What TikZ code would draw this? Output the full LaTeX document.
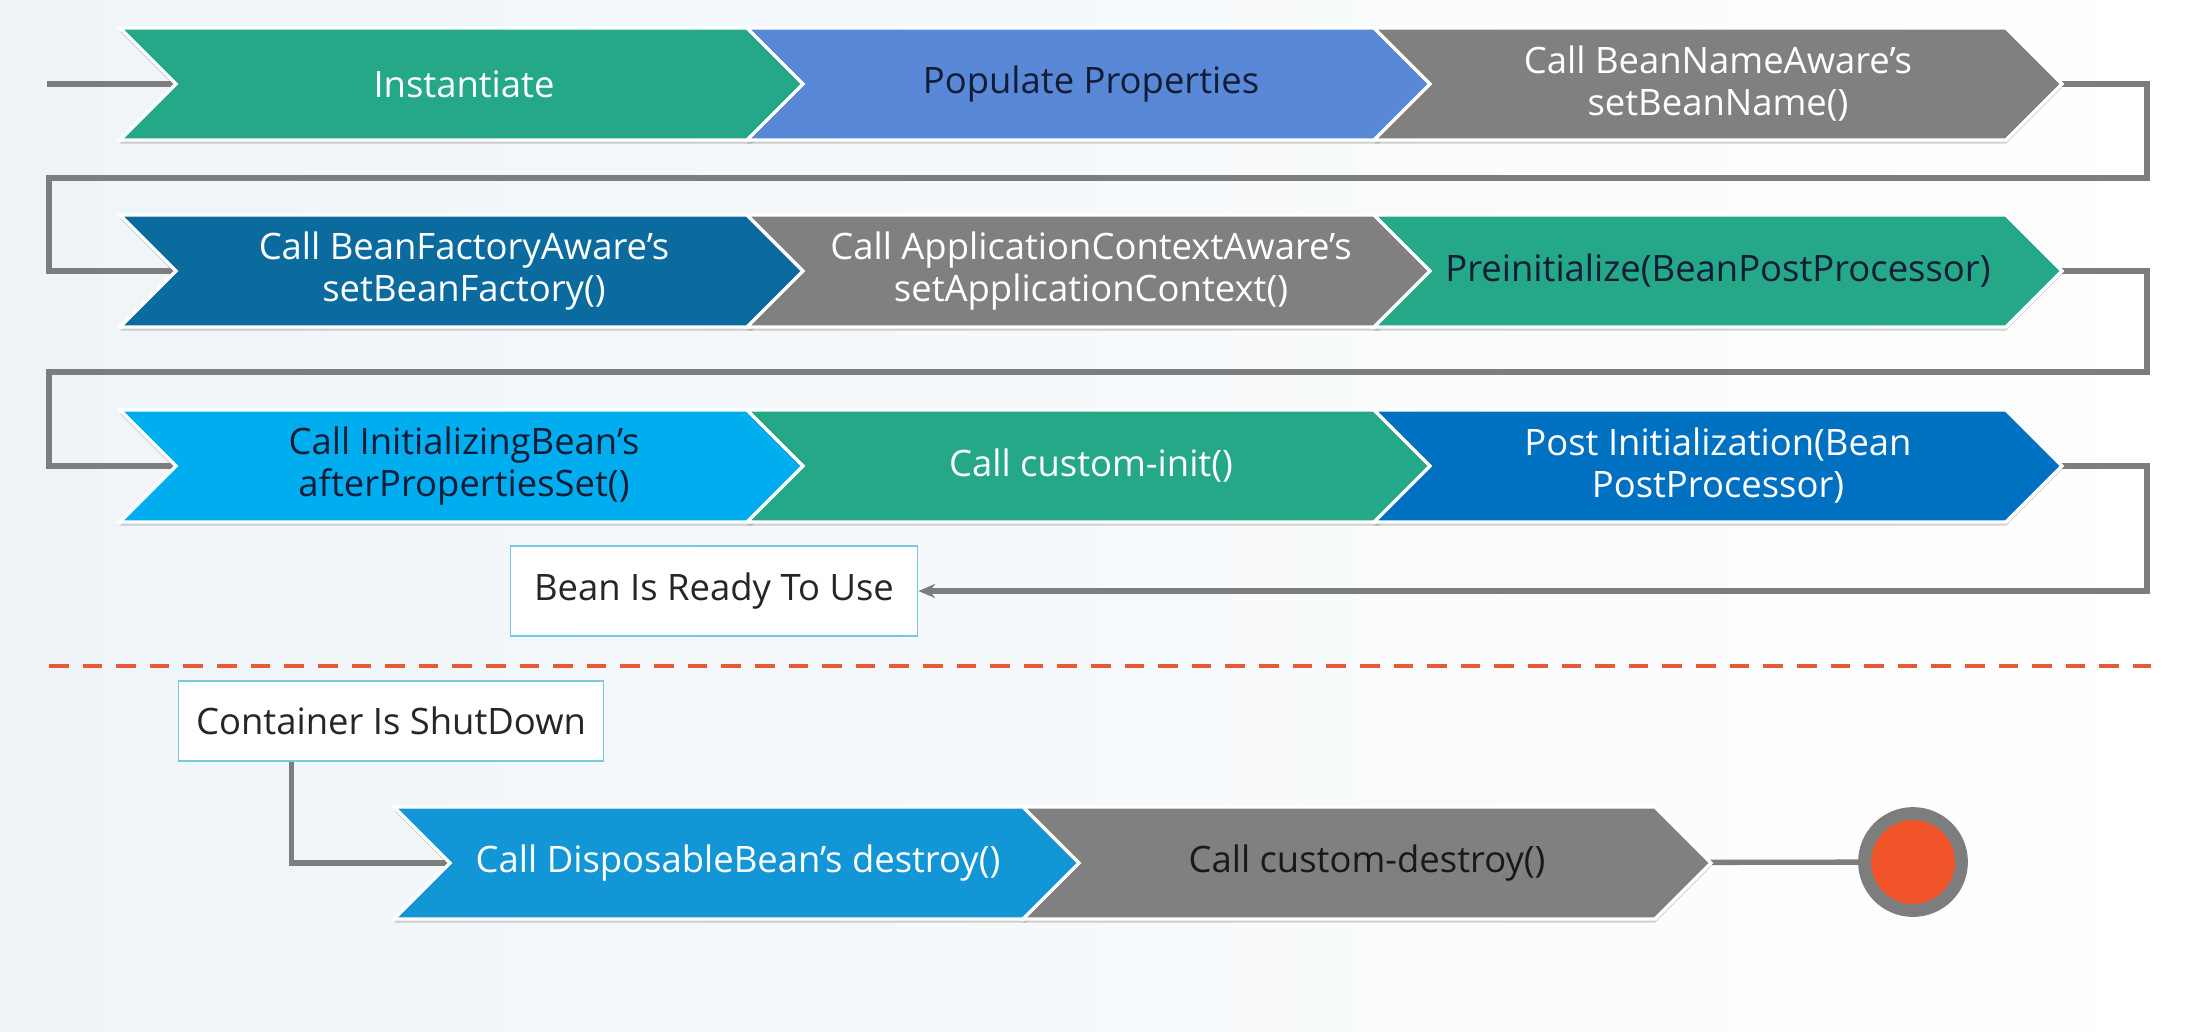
\documentclass[tikz,border=0pt]{standalone}
\usepackage{fontspec}
\setmainfont{Open Sans}
\usetikzlibrary{shapes.symbols,arrows.meta,backgrounds,shadows}
\definecolor{beangreen}{RGB}{36,168,136}
\definecolor{popblue}{RGB}{88,136,214}
\definecolor{stepgray}{RGB}{128,128,128}
\definecolor{factoryblue}{RGB}{11,107,158}
\definecolor{initblue}{RGB}{0,174,239}
\definecolor{postblue}{RGB}{0,112,192}
\definecolor{disposeblue}{RGB}{19,150,214}
\definecolor{endorange}{RGB}{240,84,40}
\definecolor{cutorange}{RGB}{232,90,55}
\definecolor{boxblue}{RGB}{120,200,225}
\definecolor{linegray}{RGB}{125,125,125}
\definecolor{inkblue}{RGB}{18,28,55}
\definecolor{paper}{RGB}{238,244,248}

\begin{document}
\begin{tikzpicture}[x=0.357pt, y=-0.357pt,
    chev/.style={signal, signal from=west, signal to=east, signal pointer angle=90,
        minimum width=245.6pt, minimum height=40pt, inner sep=0pt, align=center,
        draw=white, line width=1.2pt, font=\fontsize{13}{15}\selectfont,
        drop shadow={shadow xshift=0pt, shadow yshift=-1.3pt, opacity=.35}},
    light/.style={chev, text=white},
    dark/.style={chev, text=inkblue},
    note/.style={draw=boxblue, line width=0.6pt, fill=white, text=black!85,
        inner sep=0pt, font=\fontsize{13}{15}\selectfont},
    flow/.style={draw=linegray, line width=1.9pt}]
    \useasboundingbox (0,0) rectangle (2197,1031);

    \node[light, fill=beangreen] (inst) at (464,84) {Instantiate};
    \node[dark, fill=popblue] (props) at (1091,84) {Populate Properties};
    \node[light, fill=stepgray] (beanname) at (1718,84) {Call BeanNameAware's\\setBeanName()};

    \node[light, fill=factoryblue] (factory) at (464,271) {Call BeanFactoryAware's\\setBeanFactory()};
    \node[light, fill=stepgray] (context) at (1091,271) {Call ApplicationContextAware's\\setApplicationContext()};
    \node[dark, fill=beangreen] (preinit) at (1718,271) {Preinitialize(BeanPostProcessor)};

    \node[dark, fill=initblue] (initbean) at (464,466) {Call InitializingBean's\\afterPropertiesSet()};
    \node[light, fill=beangreen] (custinit) at (1091,466) {Call custom-init()};
    \node[light, fill=postblue] (postinit) at (1718,466) {Post Initialization(Bean\\PostProcessor)};

    \node[note, minimum width=145.3pt, minimum height=32pt] (ready) at (714,591) {Bean Is Ready To Use};
    \node[note, minimum width=151.7pt, minimum height=28.6pt] (shut) at (391,721) {Container Is ShutDown};

    \node[light, fill=disposeblue] (dispose) at (738,863) {Call DisposableBean's destroy()};
    \node[dark, fill=stepgray, text=black!90] (custdestroy) at (1367,863) {Call custom-destroy()};
    \node[circle, fill=endorange, draw=linegray, line width=4.6pt, minimum size=34.6pt] (stop) at (1913,862) {};

    \draw[cutorange, line width=1.4pt, dash pattern=on 7pt off 5pt] (49,666) -- (2151,666);

    \begin{scope}[on background layer]
        \shade[left color=paper, right color=white] (0,0) rectangle (2197,1031);
        \coordinate (start) at (47,84);
        \draw[flow] (start) -- (inst.center);
        \draw[flow] (beanname.center) -| (2147,178) -| (49,271) -- (factory.center);
        \draw[flow] (preinit.center) -| (2147,372) -| (49,466) -- (initbean.center);
        \draw[flow, -{Stealth[length=6pt, width=5pt]}] (postinit.center) -| (2147,591) -- (ready.east);
        \draw[flow] (shut.south west) ++(114,0) |- (dispose.center);
        \draw[flow] (custdestroy.center) -- (stop.center);
    \end{scope}
\end{tikzpicture}
\end{document}
